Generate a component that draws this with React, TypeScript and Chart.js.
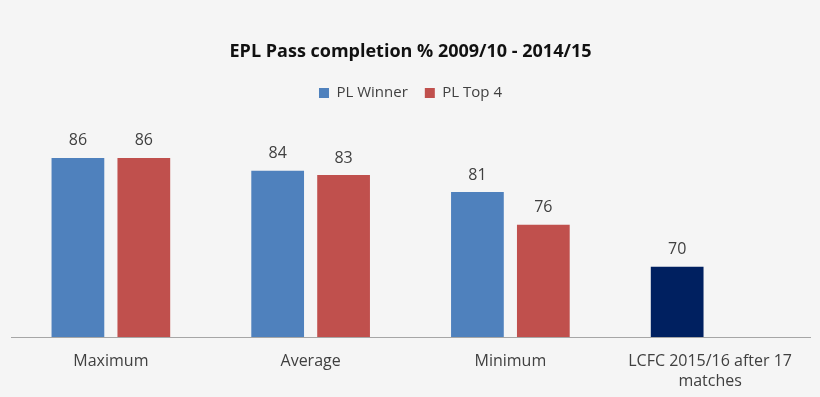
import React, { useEffect, useRef } from "react";
import { Chart, registerables } from "chart.js";

Chart.register(...registerables);

const categories: (string | string[])[] = ["Maximum", "Average", "Minimum", ["LCFC 2015/16 after 17", "matches"]];
const plWinner: (number | null)[] = [86, 84.1, 81, 70];
const plTop4: (number | null)[] = [86, 83.5, 76.2, null];
const valueLabels1 = ["86", "84", "81", "70"];
const valueLabels2 = ["86", "83", "76", ""];
const titleText = "EPL Pass completion % 2009/10 - 2014/15";
const seriesNames = ["PL Winner", "PL Top 4"];

const BLUE = "#4f81bd";
const RED = "#c0504d";
const NAVY = "#002060";
const FONT = "'Open Sans', sans-serif";
const TEXT = "#404040";

const labelPlugin = {
  id: "valueLabels",
  afterDatasetsDraw(chart: any) {
    const ctx = chart.ctx;
    ctx.save();
    ctx.font = `16px ${FONT}`;
    ctx.fillStyle = TEXT;
    ctx.textAlign = "center";
    ctx.textBaseline = "middle";
    const labelSets = [valueLabels1, valueLabels2];
    chart.data.datasets.forEach((ds: any, di: number) => {
      const meta = chart.getDatasetMeta(di);
      meta.data.forEach((bar: any, i: number) => {
        if (ds.data[i] == null) return;
        ctx.fillText(labelSets[di][i], bar.x, bar.y - 17);
      });
    });
    ctx.restore();
  },
};

export default function App() {
  const ref = useRef<HTMLCanvasElement | null>(null);
  useEffect(() => {
    if (!ref.current) return;
    const chart = new Chart(ref.current, {
      type: "bar",
      data: {
        labels: categories,
        datasets: [
          {
            label: seriesNames[0],
            data: plWinner,
            backgroundColor: (c: any) => (c.dataIndex === 3 ? NAVY : BLUE),
            borderWidth: 0,
            categoryPercentage: 0.66,
            barPercentage: 0.8,
          },
          {
            label: seriesNames[1],
            data: plTop4,
            backgroundColor: RED,
            borderWidth: 0,
            categoryPercentage: 0.66,
            barPercentage: 0.8,
          },
        ],
      },
      options: {
        animation: false,
        responsive: false,
        maintainAspectRatio: false,
        layout: { padding: { left: 11, right: 10, top: 0, bottom: -8 } },
        plugins: {
          title: {
            display: true,
            text: titleText,
            color: "#111",
            font: { family: FONT, size: 18, weight: "bold", lineHeight: 1.2 },
            padding: { top: 41, bottom: 6 },
          },
          legend: {
            display: true,
            labels: {
              boxWidth: 10,
              boxHeight: 10,
              color: TEXT,
              padding: 17,
              font: { family: FONT, size: 15 },
            },
          },
          tooltip: { enabled: false },
        },
        scales: {
          x: {
            grid: { display: false, drawTicks: false },
            border: { display: true, color: "#a6a6a6", width: 1 },
            ticks: {
              color: TEXT,
              padding: 14,
              maxRotation: 0,
              autoSkip: false,
              font: { family: FONT, size: 16, lineHeight: 1.25 },
            },
          },
          y: {
            display: false,
            min: 59.7,
            max: 92.95,
          },
        },
      },
      plugins: [labelPlugin],
    });
    return () => chart.destroy();
  }, []);
  return (
    <div style={{ position: "absolute", left: 0, top: 0, width: 820, height: 397, background: "#f5f5f5" }}>
      <canvas ref={ref} width={820} height={397} style={{ display: "block", width: 820, height: 397 }} />
    </div>
  );
}
